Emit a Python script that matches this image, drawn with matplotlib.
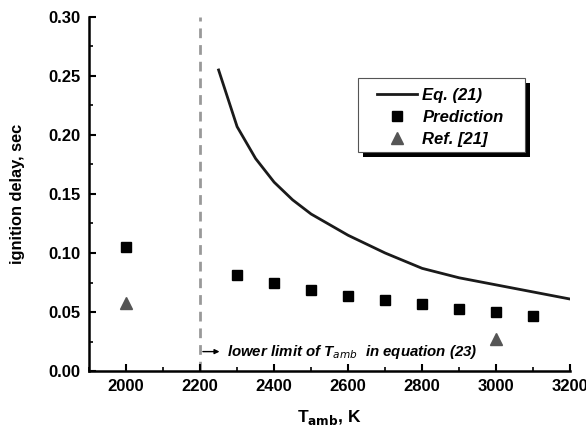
import matplotlib
matplotlib.use('Agg')
import matplotlib.pyplot as plt
from matplotlib.ticker import MultipleLocator
from matplotlib.patches import Rectangle

plt.rcParams['font.family'] = ['Liberation Sans', 'DejaVu Sans']

# Eq. (21) curve
eq_T = [2250, 2300, 2350, 2400, 2450, 2500, 2550, 2600, 2700, 2800, 2900, 3000, 3100, 3200]
eq_tau = [0.255, 0.207, 0.180, 0.160, 0.145, 0.133, 0.124, 0.115, 0.100, 0.087, 0.079, 0.073, 0.067, 0.061]

# prediction
pred_T = [2000, 2300, 2400, 2500, 2600, 2700, 2800, 2900, 3000, 3100]
pred_tau = [0.105, 0.081, 0.075, 0.069, 0.064, 0.0605, 0.057, 0.053, 0.0497, 0.047]

# Ref. [21]
ref_T = [2000, 3000]
ref_tau = [0.058, 0.027]

fig = plt.figure(figsize=(5.86, 4.32), dpi=100)
ax = fig.add_axes([0.152, 0.141, 0.821, 0.820])

ax.plot(eq_T, eq_tau, color='#1a1a1a', lw=2.0, label='Eq. (21)')
ax.plot(pred_T, pred_tau, 's', color='black', ms=6.5, label='Prediction')
ax.plot(ref_T, ref_tau, '^', color='#555555', ms=8, label='Ref. [21]')

ax.axvline(2200, color='#999999', lw=2, ls=(0, (3.5, 2.5)), zorder=0)
ax.annotate('', xy=(2260, 0.0165), xytext=(2200, 0.0165),
            arrowprops=dict(arrowstyle='-|>', color='black', lw=1, mutation_scale=7))
ax.text(2272, 0.0165, r'lower limit of T$_{amb}$  in equation (23)', fontsize=10.8,
        fontweight='bold', fontstyle='italic', va='center', ha='left')

ax.set_xlim(1900, 3200)
ax.set_ylim(0, 0.30)
ax.xaxis.set_major_locator(MultipleLocator(200))
ax.xaxis.set_minor_locator(MultipleLocator(100))
ax.yaxis.set_major_locator(MultipleLocator(0.05))
ax.yaxis.set_minor_locator(MultipleLocator(0.025))
ax.set_xticks([2000, 2200, 2400, 2600, 2800, 3000, 3200])
ax.yaxis.set_major_formatter(plt.FormatStrFormatter('%.2f'))

for s in ['top', 'right']:
    ax.spines[s].set_visible(False)
for s in ['left', 'bottom']:
    ax.spines[s].set_linewidth(1.8)
ax.tick_params(which='major', direction='in', length=5, width=1.5, labelsize=12, pad=6)
ax.tick_params(which='minor', direction='in', length=3, width=1.2)
for lab in ax.get_xticklabels() + ax.get_yticklabels():
    lab.set_fontweight('bold')

ax.set_xlabel(r'T$_{\mathbf{amb}}$, K', fontsize=12.5, fontweight='bold', labelpad=10)
ax.set_ylabel('ignition delay, sec', fontsize=11.8, fontweight='bold', labelpad=17)

# legend frame with shadow, drawn by hand
ax.add_patch(Rectangle((0.569, 0.605), 0.348, 0.209, transform=ax.transAxes,
                       facecolor='black', edgecolor='none', clip_on=False, zorder=4))
ax.add_patch(Rectangle((0.559, 0.619), 0.347, 0.209, transform=ax.transAxes,
                       facecolor='white', edgecolor='#555555', lw=0.8, clip_on=False, zorder=4.5))
leg = ax.legend(loc='upper left', bbox_to_anchor=(0.599, 0.800), frameon=False,
                prop={'weight': 'bold', 'style': 'italic', 'size': 12},
                handlelength=2.4, borderpad=0, borderaxespad=0, labelspacing=0.42,
                handletextpad=0.3)
leg.set_zorder(5)

fig.savefig('out.png', dpi=100)
